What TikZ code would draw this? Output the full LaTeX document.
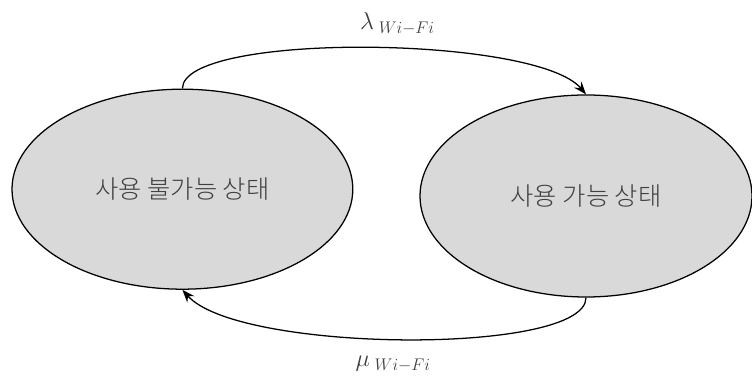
\documentclass[tikz,border=0pt]{standalone}
\usepackage{fontspec}
\newfontfamily\krfont{Noto Sans CJK KR Light}
\usetikzlibrary{arrows.meta,shapes.geometric}

\begin{document}
\begin{tikzpicture}[
  state/.style={
    ellipse,
    draw=black,
    fill=black!15,
    line width=0.9pt,
    inner sep=0pt,
    font=\krfont\fontsize{18}{21}\selectfont,
    text=black!75
  },
  rate label/.style={
    font=\fontsize{17}{20}\selectfont,
    text=black!75
  },
  rate arrow/.style={
    -{Stealth[length=3.2mm,width=2.4mm,inset=1.1mm]},
    draw=black,
    line width=0.9pt
  }
]
\useasboundingbox (0,0) rectangle (18.8,9.45);

\node[state,minimum width=8.52cm,minimum height=5cm]
  (unavailable) at (4.56,4.72) {사용 불가능 상태};
\node[state,minimum width=8.3cm,minimum height=5.05cm]
  (available) at (14.65,4.55) {사용 가능 상태};

\draw[rate arrow] (unavailable.north)
  .. controls ([yshift=1.42cm]unavailable.north)
  and ([xshift=-1.25cm,yshift=1.48cm]available.north) ..
  node[pos=0.5,above=2mm,xshift=8mm,rate label] (lambda-label) {$\lambda_{\;Wi-Fi}$}
  (available.north);

\draw[rate arrow] (available.south)
  .. controls ([yshift=-1.45cm]available.south)
  and ([xshift=1.4cm,yshift=-1.58cm]unavailable.south) ..
  node[pos=0.5,below=3mm,xshift=-3mm,rate label] (mu-label) {$\mu_{\;Wi-Fi}$}
  (unavailable.south);

\end{tikzpicture}
\end{document}
